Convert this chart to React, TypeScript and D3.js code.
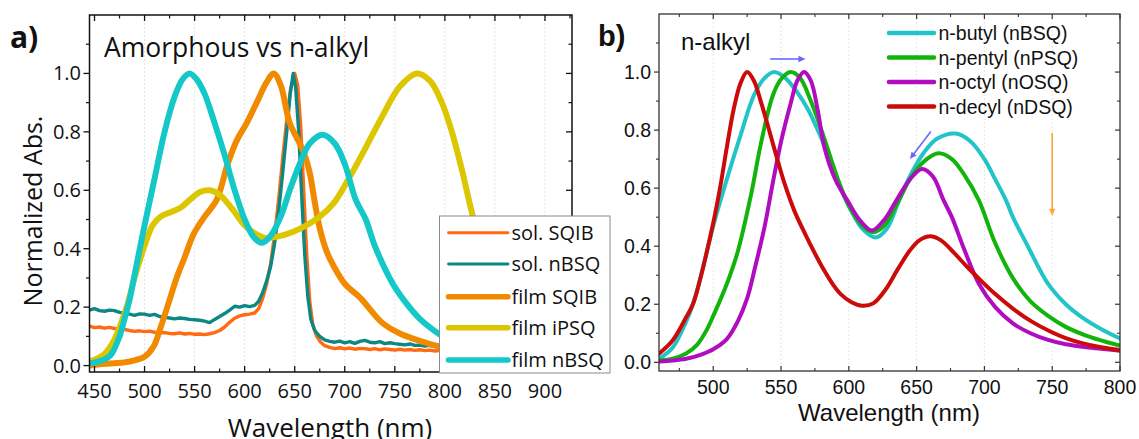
import React from 'react';
import * as d3 from 'd3';

type P = [number, number];

// ---------- Panel a data (wavelength nm, normalized abs) ----------
const solSQIB: P[] = [
  [445, 0.135], [450, 0.13], [455, 0.132], [460, 0.128], [465, 0.131], [470, 0.127], [475, 0.125], [480, 0.124],
  [485, 0.12], [490, 0.117], [495, 0.119], [500, 0.116], [505, 0.118], [510, 0.114], [515, 0.112], [520, 0.113],
  [525, 0.11], [530, 0.109], [535, 0.112], [540, 0.108], [545, 0.11], [550, 0.107], [555, 0.108], [560, 0.106],
  [565, 0.109], [570, 0.113], [575, 0.12], [580, 0.132], [585, 0.148], [590, 0.162], [595, 0.17], [600, 0.174],
  [605, 0.176], [610, 0.18], [614, 0.195], [618, 0.23], [622, 0.28], [626, 0.35], [630, 0.45], [634, 0.57],
  [638, 0.71], [642, 0.84], [646, 0.95], [650, 1.0], [653, 0.96], [656, 0.82], [659, 0.6], [662, 0.38],
  [665, 0.22], [668, 0.14], [672, 0.1], [676, 0.08], [680, 0.068], [685, 0.062], [690, 0.058], [695, 0.061],
  [700, 0.057], [705, 0.06], [710, 0.056], [715, 0.059], [720, 0.058], [725, 0.055], [730, 0.058], [735, 0.054],
  [740, 0.057], [745, 0.055], [750, 0.053], [755, 0.056], [760, 0.053], [765, 0.055], [770, 0.052], [775, 0.054],
  [780, 0.051], [785, 0.053], [790, 0.05], [795, 0.052], [800, 0.05], [820, 0.05]
];
const solNBSQ: P[] = [
  [445, 0.19], [450, 0.195], [455, 0.188], [460, 0.186], [465, 0.19], [470, 0.188], [475, 0.182], [480, 0.18],
  [485, 0.176], [490, 0.172], [495, 0.177], [500, 0.176], [505, 0.172], [510, 0.175], [515, 0.168], [520, 0.165],
  [525, 0.163], [530, 0.16], [535, 0.163], [540, 0.161], [545, 0.158], [550, 0.157], [555, 0.155], [560, 0.152],
  [565, 0.147], [570, 0.158], [575, 0.168], [580, 0.178], [585, 0.19], [590, 0.203], [595, 0.2], [600, 0.205],
  [605, 0.202], [610, 0.206], [614, 0.22], [618, 0.25], [622, 0.29], [626, 0.34], [630, 0.42], [634, 0.53],
  [638, 0.66], [642, 0.8], [645.5, 0.93], [648.5, 1.0], [651, 0.95], [654, 0.8], [657, 0.58], [660, 0.38],
  [663, 0.24], [666, 0.16], [670, 0.12], [675, 0.1], [680, 0.088], [685, 0.083], [690, 0.08], [695, 0.084],
  [700, 0.078], [705, 0.082], [710, 0.076], [715, 0.083], [720, 0.086], [725, 0.08], [730, 0.078], [735, 0.082],
  [740, 0.075], [745, 0.078], [750, 0.075], [755, 0.073], [760, 0.071], [765, 0.074], [770, 0.069], [775, 0.07],
  [780, 0.067], [785, 0.069], [790, 0.065], [795, 0.066], [800, 0.063], [820, 0.06]
];
const filmSQIB: P[] = [
  [445, 0.0], [450, 0.002], [460, 0.006], [470, 0.008], [480, 0.011], [490, 0.018], [500, 0.03], [509, 0.065],
  [516, 0.13], [525, 0.225], [532, 0.3], [540, 0.37], [549, 0.45], [560, 0.51], [572, 0.567], [583, 0.69],
  [592, 0.77], [602, 0.83], [612, 0.9], [622, 0.97], [629, 1.0], [636, 0.96], [645, 0.83], [655, 0.76],
  [660, 0.72], [665, 0.66], [670, 0.56], [675, 0.47], [682, 0.39], [689, 0.34], [700, 0.28], [716, 0.23],
  [727, 0.185], [738, 0.145], [755, 0.11], [772, 0.088], [795, 0.065], [820, 0.05], [850, 0.04]
];
const filmIPSQ: P[] = [
  [445, 0.015], [450, 0.02], [460, 0.04], [470, 0.09], [482, 0.2], [490, 0.3], [500, 0.41], [508, 0.48],
  [516, 0.51], [526, 0.525], [536, 0.54], [546, 0.57], [556, 0.595], [565, 0.6], [575, 0.585], [582, 0.56],
  [589, 0.53], [600, 0.48], [609, 0.455], [620, 0.437], [630, 0.44], [642, 0.45], [655, 0.468], [675, 0.51],
  [689, 0.556], [705, 0.646], [720, 0.74], [737, 0.85], [755, 0.955], [772, 1.0], [785, 0.975], [797, 0.9],
  [807, 0.8], [817, 0.67], [828, 0.51], [840, 0.37], [860, 0.2], [880, 0.11], [900, 0.06]
];
const filmNBSQ: P[] = [
  [445, 0.008], [450, 0.01], [458, 0.018], [466, 0.035], [475, 0.1], [480, 0.16], [485, 0.225], [490, 0.31],
  [500, 0.48], [510, 0.64], [520, 0.8], [530, 0.92], [538, 0.98], [545, 1.0], [552, 0.98], [560, 0.93],
  [570, 0.83], [580, 0.72], [590, 0.6], [600, 0.5], [609, 0.44], [617, 0.42], [625, 0.44], [636, 0.51],
  [645, 0.6], [655, 0.69], [665, 0.76], [678, 0.79], [690, 0.76], [700, 0.69], [711, 0.567], [721, 0.5],
  [730, 0.41], [748, 0.28], [760, 0.22], [775, 0.16], [790, 0.118], [800, 0.095], [820, 0.07], [850, 0.05]
];

// ---------- Panel b data ----------
const nBSQ: P[] = [
  [460, 0.012], [470, 0.05], [480, 0.14], [485, 0.2], [490, 0.28], [500, 0.47], [510, 0.63], [520, 0.78],
  [530, 0.92], [538, 0.98], [545, 1.0], [553, 0.98], [562, 0.93], [570, 0.87], [579, 0.78], [587, 0.69],
  [594, 0.6], [602, 0.52], [610, 0.46], [620, 0.43], [628, 0.46], [637, 0.557], [645, 0.64], [655, 0.72],
  [665, 0.77], [679, 0.788], [690, 0.76], [700, 0.7], [708, 0.63], [716, 0.557], [721, 0.5], [732, 0.4],
  [747, 0.27], [760, 0.2], [772, 0.155], [786, 0.115], [800, 0.082]
];
const nPSQ: P[] = [
  [460, 0.006], [470, 0.012], [480, 0.03], [488, 0.06], [495, 0.11], [500, 0.16], [510, 0.27], [518, 0.38],
  [528, 0.58], [535, 0.75], [544, 0.92], [550, 0.975], [557, 1.0], [564, 0.98], [572, 0.9], [582, 0.77],
  [592, 0.63], [600, 0.54], [610, 0.47], [618, 0.448], [626, 0.47], [636, 0.55], [645, 0.63], [655, 0.69],
  [666, 0.72], [676, 0.7], [686, 0.64], [696, 0.557], [708, 0.41], [721, 0.29], [734, 0.21], [747, 0.16],
  [760, 0.122], [775, 0.092], [790, 0.07], [800, 0.058]
];
const nOSQ: P[] = [
  [460, 0.003], [470, 0.006], [480, 0.012], [490, 0.025], [500, 0.045], [510, 0.08], [518, 0.14], [525, 0.22],
  [531, 0.33], [538, 0.47], [544, 0.62], [550, 0.76], [557, 0.89], [562, 0.97], [567, 1.0], [572, 0.97],
  [577, 0.87], [582, 0.74], [590, 0.63], [599, 0.557], [608, 0.49], [617, 0.454], [626, 0.49], [635, 0.557],
  [645, 0.63], [654, 0.666], [662, 0.64], [670, 0.557], [676, 0.5], [685, 0.39], [696, 0.27], [708, 0.19],
  [721, 0.134], [734, 0.1], [747, 0.077], [760, 0.062], [775, 0.052], [790, 0.045], [800, 0.04]
];
const nDSQ: P[] = [
  [460, 0.03], [470, 0.075], [480, 0.155], [485, 0.2], [490, 0.28], [500, 0.48], [505, 0.6], [510, 0.74],
  [515, 0.87], [520, 0.96], [525, 1.0], [530, 0.97], [535, 0.9], [540, 0.82], [546, 0.72], [553, 0.61],
  [560, 0.52], [568, 0.44], [575, 0.375], [582, 0.315], [588, 0.27], [594, 0.235], [602, 0.207], [610, 0.195],
  [618, 0.203], [627, 0.25], [636, 0.32], [645, 0.385], [652, 0.42], [660, 0.434], [668, 0.42], [678, 0.375],
  [687, 0.33], [696, 0.288], [708, 0.235], [721, 0.185], [735, 0.14], [749, 0.105], [760, 0.083], [772, 0.066],
  [786, 0.052], [800, 0.042]
];

// ---------- Ticks / labels ----------
const aXTicks = [450, 500, 550, 600, 650, 700, 750, 800, 850, 900];
const aYTicks = [0, 0.2, 0.4, 0.6, 0.8, 1.0];
const bXTicks = [500, 550, 600, 650, 700, 750, 800];
const bYTicks = [0, 0.2, 0.4, 0.6, 0.8, 1.0];

const aSeries = [
  { name: 'sol. SQIB', data: solSQIB, color: '#ff6a13', width: 3.4, smooth: false },
  { name: 'sol. nBSQ', data: solNBSQ, color: '#0b8883', width: 3.4, smooth: false },
  { name: 'film SQIB', data: filmSQIB, color: '#f28a00', width: 6, smooth: true },
  { name: 'film iPSQ', data: filmIPSQ, color: '#dcc600', width: 6, smooth: true },
  { name: 'film nBSQ', data: filmNBSQ, color: '#14c8c8', width: 6, smooth: true },
];
const bSeries = [
  { name: 'n-butyl (nBSQ)', data: nBSQ, color: '#22c4c8' },
  { name: 'n-pentyl (nPSQ)', data: nPSQ, color: '#12b40c' },
  { name: 'n-octyl (nOSQ)', data: nOSQ, color: '#b00cc0' },
  { name: 'n-decyl (nDSQ)', data: nDSQ, color: '#cc0a0a' },
];

const FA = '"Open Sans", "Noto Sans", sans-serif';
const FB = '"Liberation Sans", Arial, sans-serif';

export default function App() {
  const ax = d3.scaleLinear().domain([445, 927]).range([89.5, 572]);
  const ay = d3.scaleLinear().domain([-0.022, 1.2]).range([372, 15]);
  const bx = d3.scaleLinear().domain([460, 800]).range([659, 1120]);
  const by = d3.scaleLinear().domain([-0.03, 1.2]).range([371, 14]);

  const lineA = (data: P[], smooth: boolean) =>
    d3.line<P>().x(d => ax(d[0])).y(d => ay(d[1]))
      .curve(smooth ? d3.curveCatmullRom.alpha(0.5) : d3.curveLinear)(data) || '';
  const lineB = (data: P[]) =>
    d3.line<P>().x(d => bx(d[0])).y(d => by(d[1])).curve(d3.curveCatmullRom.alpha(0.5))(data) || '';

  const aMinorX = aXTicks.map(t => t + 25).filter(t => t > 445 && t < 927);
  const aMinorY = aYTicks.map(t => t + 0.1).filter(t => t < 1.2);
  const bMinorX = [475, 525, 575, 625, 675, 725, 775];
  const bMinorY = bYTicks.map(t => t + 0.1).filter(t => t < 1.2);

  const [aL, aR] = ax.range();
  const [aB, aT] = ay.range();
  const [bL, bR] = bx.range();
  const [bB, bT] = by.range();

  const legA = { x: 439.5, y: 216, w: 170.5, h: 157 };
  const legARows = [232.7, 264, 296.7, 327.7, 360];
  const legBRows = [33, 57.5, 82, 106.5];

  const arrow = (x1: number, y1: number, x2: number, y2: number, color: string, size = 7) => {
    const ang = Math.atan2(y2 - y1, x2 - x1);
    const p1 = [x2 - size * Math.cos(ang) + size * 0.45 * Math.sin(ang), y2 - size * Math.sin(ang) - size * 0.45 * Math.cos(ang)];
    const p2 = [x2 - size * Math.cos(ang) - size * 0.45 * Math.sin(ang), y2 - size * Math.sin(ang) + size * 0.45 * Math.cos(ang)];
    return (
      <g>
        <line x1={x1} y1={y1} x2={x2 - size * 0.6 * Math.cos(ang)} y2={y2 - size * 0.6 * Math.sin(ang)} stroke={color} strokeWidth={1.6} />
        <polygon points={`${x2},${y2} ${p1[0]},${p1[1]} ${p2[0]},${p2[1]}`} fill={color} />
      </g>
    );
  };

  return (
    <svg width={1139} height={439} style={{ position: 'absolute', left: 0, top: 0, background: '#fff' }}>
      <defs>
        <clipPath id="clipA"><rect x={aL} y={aT} width={aR - aL} height={aB - aT} /></clipPath>
        <clipPath id="clipB"><rect x={bL} y={bT} width={bR - bL} height={bB - bT} /></clipPath>
      </defs>
      <rect x={0} y={0} width={1139} height={439} fill="#fff" />

      {/* ===== Panel a ===== */}
      {aXTicks.filter(t => t > 450).map(t => (
        <line key={'ga' + t} x1={ax(t)} x2={ax(t)} y1={aT} y2={aB} stroke="#dcdcdc" strokeWidth={0.8} strokeDasharray="2,2" />
      ))}
      <g clipPath="url(#clipA)">
        {aSeries.map(s => (
          <path key={s.name} d={lineA(s.data, s.smooth)} fill="none" stroke={s.color} strokeWidth={s.width}
            strokeLinejoin="round" strokeLinecap="round" />
        ))}
      </g>
      <rect x={aL} y={aT} width={aR - aL} height={aB - aT} fill="none" stroke="#111" strokeWidth={1.5} />
      {aXTicks.map(t => (
        <g key={'axt' + t}>
          <line x1={ax(t)} x2={ax(t)} y1={aB} y2={aB - 6} stroke="#111" strokeWidth={1.3} />
          <line x1={ax(t)} x2={ax(t)} y1={aT} y2={aT + 6} stroke="#111" strokeWidth={1.3} />
          <text x={ax(t)} y={398} textAnchor="middle" fontFamily={FA} fontSize={20} fill="#111">{t}</text>
        </g>
      ))}
      {aMinorX.map(t => (
        <g key={'axm' + t}>
          <line x1={ax(t)} x2={ax(t)} y1={aB} y2={aB - 3.5} stroke="#111" strokeWidth={1.2} />
          <line x1={ax(t)} x2={ax(t)} y1={aT} y2={aT + 3.5} stroke="#111" strokeWidth={1.2} />
        </g>
      ))}
      {aYTicks.map(t => (
        <g key={'ayt' + t}>
          <line x1={aL} x2={aL - 6} y1={ay(t)} y2={ay(t)} stroke="#111" strokeWidth={1.3} />
          <line x1={aR} x2={aR - 6} y1={ay(t)} y2={ay(t)} stroke="#111" strokeWidth={1.3} />
          <text x={81} y={ay(t) + 7} textAnchor="end" fontFamily={FA} fontSize={20} fill="#111">{t.toFixed(1)}</text>
        </g>
      ))}
      {aMinorY.map(t => (
        <g key={'aym' + t}>
          <line x1={aL} x2={aL - 3.5} y1={ay(t)} y2={ay(t)} stroke="#111" strokeWidth={1.2} />
          <line x1={aR} x2={aR - 3.5} y1={ay(t)} y2={ay(t)} stroke="#111" strokeWidth={1.2} />
        </g>
      ))}
      <text x={330} y={437} textAnchor="middle" fontFamily={FA} fontSize={26} fill="#111">Wavelength (nm)</text>
      <text transform="translate(42,211) rotate(-90)" textAnchor="middle" fontFamily={FA} fontSize={25} fill="#111">Normalized Abs.</text>
      <text x={104} y={57} fontFamily={FA} fontSize={26.5} fill="#111">Amorphous vs n-alkyl</text>
      <text x={10} y={48} fontFamily={FA} fontSize={30} fontWeight="bold" fill="#111">a)</text>

      {/* legend a */}
      <rect x={legA.x} y={legA.y} width={legA.w} height={legA.h} fill="#fff" stroke="#8a8a8a" strokeWidth={1} />
      {aSeries.map((s, i) => (
        <g key={'la' + s.name}>
          <line x1={448.5} x2={508} y1={legARows[i]} y2={legARows[i]} stroke={s.color} strokeWidth={s.width - 0.5} strokeLinecap="round" />
          <text x={511.5} y={legARows[i] + 7} fontFamily={FA} fontSize={20} fill="#111">{s.name}</text>
        </g>
      ))}

      {/* ===== Panel b ===== */}
      {bXTicks.filter(t => t < 800).map(t => (
        <line key={'gb' + t} x1={bx(t)} x2={bx(t)} y1={bT} y2={bB} stroke="#dedede" strokeWidth={0.8} strokeDasharray="2,2" />
      ))}
      <g clipPath="url(#clipB)">
        {bSeries.map(s => (
          <path key={s.name} d={lineB(s.data)} fill="none" stroke={s.color} strokeWidth={4}
            strokeLinejoin="round" strokeLinecap="round" />
        ))}
      </g>
      <rect x={bL} y={bT} width={bR - bL} height={bB - bT} fill="none" stroke="#333" strokeWidth={1.3} />
      {bXTicks.map(t => (
        <g key={'bxt' + t}>
          <line x1={bx(t)} x2={bx(t)} y1={bB} y2={bB - 5} stroke="#333" strokeWidth={1.2} />
          <line x1={bx(t)} x2={bx(t)} y1={bT} y2={bT + 5} stroke="#333" strokeWidth={1.2} />
          <text x={bx(t)} y={394} textAnchor="middle" fontFamily={FB} fontSize={19.5} fill="#111">{t}</text>
        </g>
      ))}
      {bMinorX.map(t => (
        <g key={'bxm' + t}>
          <line x1={bx(t)} x2={bx(t)} y1={bB} y2={bB - 3} stroke="#333" strokeWidth={1.1} />
          <line x1={bx(t)} x2={bx(t)} y1={bT} y2={bT + 3} stroke="#333" strokeWidth={1.1} />
        </g>
      ))}
      {bYTicks.map(t => (
        <g key={'byt' + t}>
          <line x1={bL} x2={bL - 5} y1={by(t)} y2={by(t)} stroke="#333" strokeWidth={1.2} />
          <line x1={bR} x2={bR - 5} y1={by(t)} y2={by(t)} stroke="#333" strokeWidth={1.2} />
          <text x={651} y={by(t) + 7} textAnchor="end" fontFamily={FB} fontSize={19.5} fill="#111">{t.toFixed(1)}</text>
        </g>
      ))}
      {bMinorY.map(t => (
        <g key={'bym' + t}>
          <line x1={bL} x2={bL - 3} y1={by(t)} y2={by(t)} stroke="#333" strokeWidth={1.1} />
          <line x1={bR} x2={bR - 3} y1={by(t)} y2={by(t)} stroke="#333" strokeWidth={1.1} />
        </g>
      ))}
      <text x={889} y={421} textAnchor="middle" fontFamily={FB} fontSize={24} fill="#111">Wavelength (nm)</text>
      <text x={681} y={50} fontFamily={FB} fontSize={24} fill="#111">n-alkyl</text>
      <text x={598} y={46} fontFamily={FB} fontSize={29} fontWeight="bold" fill="#111">b)</text>

      {/* arrows */}
      {arrow(bx(542), by(1.045), bx(568), by(1.045), '#6868ff')}
      {arrow(bx(660.5), by(0.795), bx(645), by(0.70), '#6868ff')}
      {arrow(bx(750), by(0.79), bx(750), by(0.505), '#ffa53a')}

      {/* legend b */}
      {bSeries.map((s, i) => (
        <g key={'lb' + s.name}>
          <line x1={889} x2={934} y1={legBRows[i]} y2={legBRows[i]} stroke={s.color} strokeWidth={4.5} strokeLinecap="round" />
          <text x={938.5} y={legBRows[i] + 7} fontFamily={FB} fontSize={19.5} fill="#111">{s.name}</text>
        </g>
      ))}
    </svg>
  );
}
